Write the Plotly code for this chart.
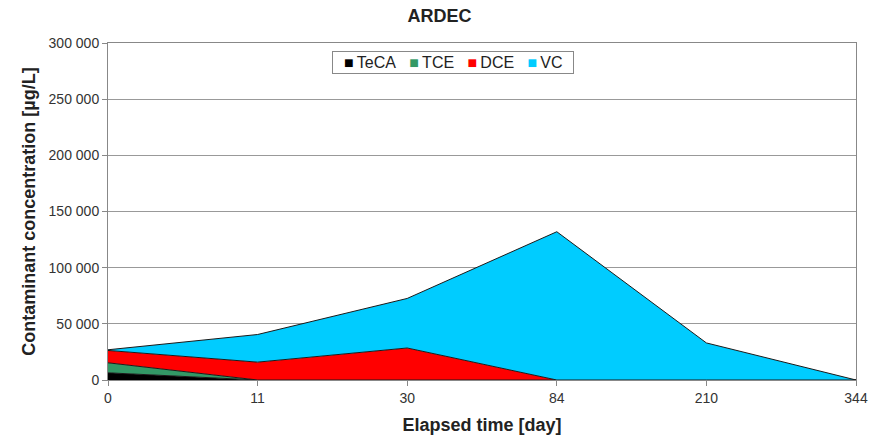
import plotly.graph_objects as go

days = ["0", "11", "30", "84", "210", "344"]
teca = [6400, 0, 0, 0, 0, 0]
tce = [8900, 0, 0, 0, 0, 0]
dce = [11000, 15900, 28500, 0, 0, 0]
vc = [600, 24600, 44100, 132000, 33000, 0]
y_ticks = [0, 50000, 100000, 150000, 200000, 250000, 300000]
y_tick_labels = ["0", "50 000", "100 000", "150 000", "200 000", "250 000", "300 000"]

series = [
    ("TeCA", teca, "#000000"),
    ("TCE", tce, "#339966"),
    ("DCE", dce, "#FF0000"),
    ("VC", vc, "#00CCFF"),
]

fig = go.Figure()
for name, vals, col in series:
    fig.add_trace(go.Scatter(
        x=days, y=vals, name=name, mode="lines",
        stackgroup="one", fillcolor=col,
        line=dict(color="#1a1a1a", width=1),
        showlegend=False,
    ))

# legend drawn as a boxed text row (Excel-style compact legend)
legend_text = "&nbsp;&nbsp;" + "&nbsp;&nbsp;&nbsp;".join(
    f'<span style="color:{col}">■</span>\u2009{name}' for name, _, col in series
) + "&nbsp;&nbsp;"
fig.add_annotation(
    text=legend_text, xref="paper", yref="paper", x=0.4606, y=0.9436,
    xanchor="center", yanchor="middle", showarrow=False,
    bgcolor="white", bordercolor="#888888", borderwidth=1, borderpad=2,
    font=dict(size=16, color="#222222"),
)

font_family = "Liberation Sans, Arial, sans-serif"
fig.update_layout(
    width=879, height=436,
    margin=dict(l=108, r=23, t=43, b=56),
    paper_bgcolor="white", plot_bgcolor="white",
    font=dict(family=font_family, size=14, color="#333333"),
    showlegend=False,
    title=dict(text="<b>ARDEC</b>", x=0.5, xanchor="center",
               y=1 - 16 / 436, yanchor="middle", yref="container",
               font=dict(size=18, color="#222222")),
    xaxis=dict(type="category", range=[0, 5], automargin=False,
               showgrid=False, showline=True, linecolor="#888888", linewidth=1,
               mirror=True, ticks="outside", ticklen=5, tickcolor="#888888",
               tickfont=dict(size=14, color="#333333"),
               title=dict(text="<b>Elapsed time [day]</b>", standoff=13,
                          font=dict(size=18, color="#222222"))),
    yaxis=dict(range=[0, 300000], tickvals=y_ticks, ticktext=y_tick_labels,
               automargin=False,
               showgrid=True, gridcolor="#999999", gridwidth=1,
               showline=True, linecolor="#888888", linewidth=1, mirror=True,
               ticks="outside", ticklen=5, tickcolor="#888888",
               zeroline=False,
               tickfont=dict(size=14, color="#333333"),
               title=dict(text="<b>Contaminant concentration [µg/L]</b>", standoff=8,
                          font=dict(size=18, color="#222222"))),
)

fig.write_html("out.html")
